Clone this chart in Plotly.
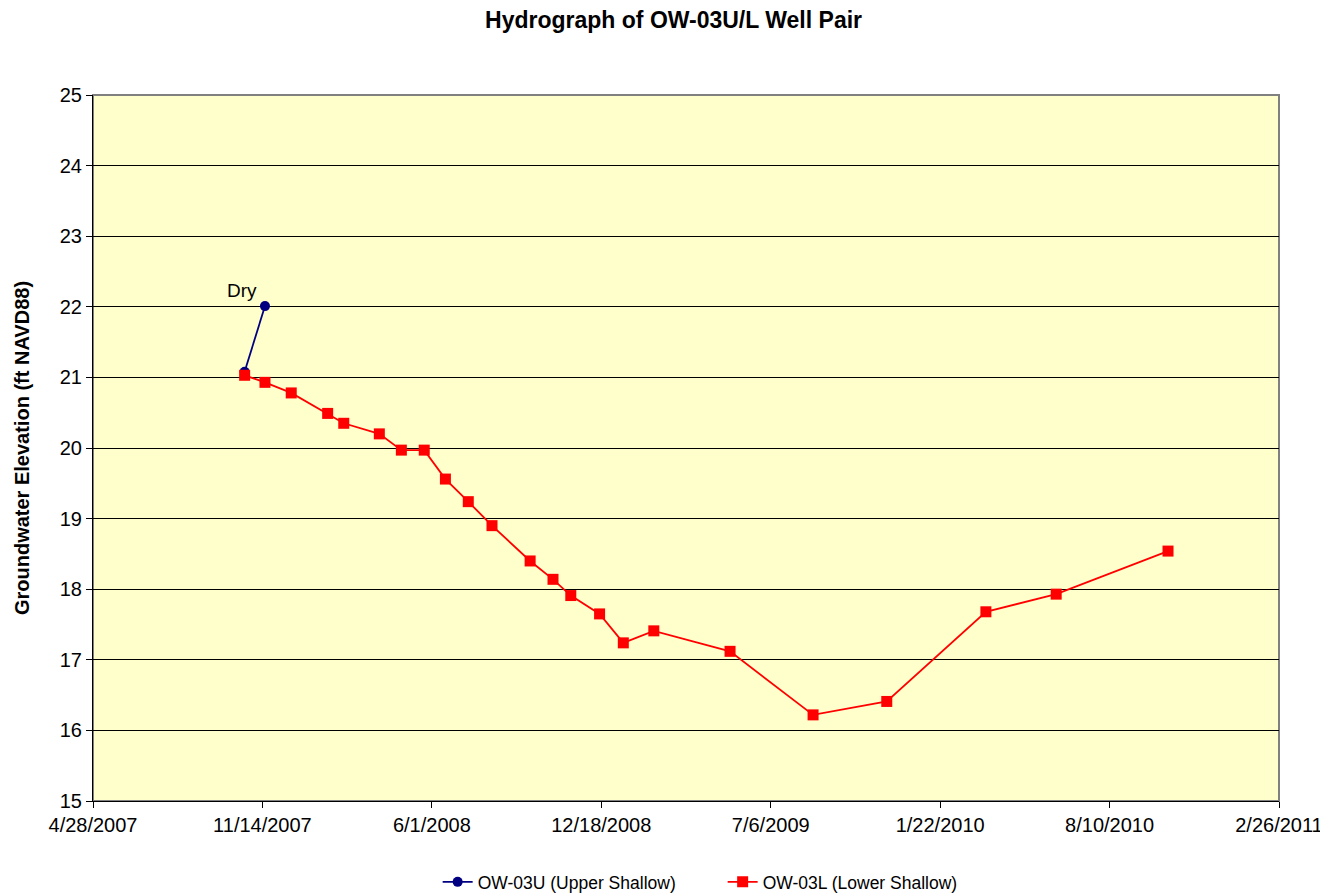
import plotly.graph_objects as go

upper_dates = ["2007-10-24", "2007-11-17"]
upper_vals = [21.08, 22.01]

lower_dates = ["2007-10-24", "2007-11-17", "2007-12-18", "2008-01-30", "2008-02-18",
               "2008-03-31", "2008-04-26", "2008-05-23", "2008-06-17", "2008-07-14",
               "2008-08-11", "2008-09-25", "2008-10-22", "2008-11-12", "2008-12-16",
               "2009-01-13", "2009-02-18", "2009-05-19", "2009-08-25", "2009-11-20",
               "2010-03-17", "2010-06-08", "2010-10-18"]
lower_vals = [21.03, 20.93, 20.78, 20.49, 20.35,
              20.20, 19.97, 19.97, 19.56, 19.24,
              18.90, 18.40, 18.14, 17.91, 17.65,
              17.24, 17.41, 17.12, 16.22, 16.41,
              17.68, 17.93, 18.54]

tick_vals = ["2007-04-28", "2007-11-14", "2008-06-01", "2008-12-18", "2009-07-06",
             "2010-01-22", "2010-08-10", "2011-02-26"]
tick_text = ["4/28/2007", "11/14/2007", "6/1/2008", "12/18/2008", "7/6/2009",
             "1/22/2010", "8/10/2010", "2/26/2011"]

font = "Liberation Sans, Arial, sans-serif"

fig = go.Figure()
fig.add_trace(go.Scatter(
    x=upper_dates, y=upper_vals, mode="lines+markers",
    name="OW-03U (Upper Shallow)",
    line=dict(color="#000080", width=1.8),
    marker=dict(symbol="circle", size=10, color="#000080"),
))
fig.add_trace(go.Scatter(
    x=lower_dates, y=lower_vals, mode="lines+markers",
    name="OW-03L (Lower Shallow)",
    line=dict(color="#FF0000", width=1.8),
    marker=dict(symbol="square", size=11, color="#FF0000"),
))

fig.add_annotation(x=upper_dates[1], y=upper_vals[1], text="Dry", showarrow=False,
                   xanchor="right", yanchor="bottom", xshift=-6, yshift=3,
                   font=dict(family=font, size=19, color="black"))

fig.add_shape(type="rect", xref="paper", yref="paper", x0=0, y0=0, x1=1, y1=1,
              line=dict(color="#808080", width=2), layer="below")

fig.update_layout(
    width=1320, height=888,
    margin=dict(l=85, r=49, t=87, b=95, autoexpand=False),
    paper_bgcolor="white", plot_bgcolor="#FFFFCC",
    title=dict(text="<b>Hydrograph of OW-03U/L Well Pair</b>", x=0.5042, xanchor="center",
               y=0.9865, yanchor="middle",
               font=dict(family=font, size=23, color="black")),
    font=dict(family=font, color="black"),
    showlegend=True,
    legend=dict(orientation="h", x=0.2906, xanchor="left",
                yref="container", y=0.0158, yanchor="middle",
                font=dict(family=font, size=17.5, color="black"),
                entrywidth=240, entrywidthmode="pixels"),
    xaxis=dict(
        type="date", range=["2007-04-28", "2011-02-26"], automargin=False,
        tickmode="array", tickvals=tick_vals, ticktext=tick_text,
        showgrid=False, zeroline=False,
        showline=True, linecolor="black", linewidth=1,
        ticks="outside", ticklen=6, tickcolor="black",
        tickfont=dict(family=font, size=20, color="black"),
    ),
    yaxis=dict(
        range=[15, 25], dtick=1, tick0=15, automargin=False,
        showgrid=True, gridcolor="black", gridwidth=1,
        zeroline=False,
        showline=True, linecolor="black", linewidth=1,
        ticks="outside", ticklen=6, tickcolor="black",
        tickfont=dict(family=font, size=20, color="black"),
        title=dict(text="<b>Groundwater Elevation (ft NAVD88)</b>", standoff=24,
                   font=dict(family=font, size=20, color="black")),
    ),
)

fig.write_html("out.html")
